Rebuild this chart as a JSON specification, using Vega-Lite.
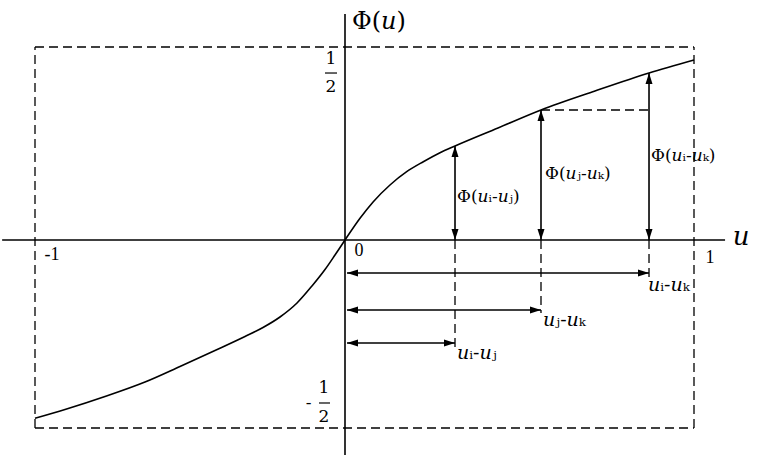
{
  "$schema": "https://vega.github.io/schema/vega-lite/v6.json",
  "width": 764,
  "height": 459,
  "autosize": {"type": "fit", "contains": "padding"},
  "padding": 0,
  "background": "white",
  "config": {"view": {"stroke": null}},
  "datasets": {
    "curve": [
      {"u": -1.0, "phi": -0.4742},
      {"u": -0.9032, "phi": -0.4508},
      {"u": -0.7742, "phi": -0.4162},
      {"u": -0.6452, "phi": -0.3777},
      {"u": -0.5323, "phi": -0.3364},
      {"u": -0.4194, "phi": -0.2939},
      {"u": -0.3226, "phi": -0.2566},
      {"u": -0.2645, "phi": -0.2327},
      {"u": -0.2097, "phi": -0.2048},
      {"u": -0.1548, "phi": -0.1676},
      {"u": -0.1065, "phi": -0.1223},
      {"u": -0.0645, "phi": -0.0785},
      {"u": -0.0323, "phi": -0.0399},
      {"u": 0.0, "phi": 0.0},
      {"u": 0.043, "phi": 0.0562},
      {"u": 0.0811, "phi": 0.0992},
      {"u": 0.1289, "phi": 0.1425},
      {"u": 0.1768, "phi": 0.1769},
      {"u": 0.2244, "phi": 0.2028},
      {"u": 0.2722, "phi": 0.2262},
      {"u": 0.3152, "phi": 0.2435},
      {"u": 0.4384, "phi": 0.2902},
      {"u": 0.5616, "phi": 0.3368},
      {"u": 0.7163, "phi": 0.386},
      {"u": 0.8711, "phi": 0.4326},
      {"u": 1.0, "phi": 0.4663}
    ],
    "axes": [
      {"u": -1.106, "phi": 0, "u2": 1.089, "phi2": 0},
      {"u": 0, "phi": 0.5855, "u2": 0, "phi2": -0.5718}
    ],
    "arrows": [
      {"u": 0.3152, "phi": 0, "u2": 0.3152, "phi2": 0.2435},
      {"u": 0.5616, "phi": 0, "u2": 0.5616, "phi2": 0.3368},
      {"u": 0.8711, "phi": 0, "u2": 0.8711, "phi2": 0.4326},
      {"u": 0.0057, "phi": -0.0878, "u2": 0.8711, "phi2": -0.0878},
      {"u": 0.0057, "phi": -0.1862, "u2": 0.5616, "phi2": -0.1862},
      {"u": 0.0057, "phi": -0.2739, "u2": 0.3152, "phi2": -0.2739}
    ],
    "bars": [
      {"u": -0.0645, "phi": 0.4326, "u2": -0.0258, "phi2": 0.4326},
      {"u": -0.0839, "phi": -0.4335, "u2": -0.0484, "phi2": -0.4335}
    ],
    "dashed": [
      {"u": -1, "phi": 0.5, "u2": 1, "phi2": 0.5},
      {"u": -1, "phi": -0.5, "u2": 1, "phi2": -0.5},
      {"u": -1, "phi": -0.5, "u2": -1, "phi2": 0.5},
      {"u": 1, "phi": -0.5, "u2": 1, "phi2": 0.5},
      {"u": 0.3152, "phi": 0, "u2": 0.3152, "phi2": -0.2846},
      {"u": 0.5616, "phi": 0, "u2": 0.5616, "phi2": -0.194},
      {"u": 0.8711, "phi": 0, "u2": 0.8711, "phi2": -0.101},
      {"u": 0.5616, "phi": 0.3368, "u2": 0.8711, "phi2": 0.3368}
    ],
    "headsUp": [
      {"u": 0.3152, "phi": 0.2435},
      {"u": 0.5616, "phi": 0.3368},
      {"u": 0.8711, "phi": 0.4326}
    ],
    "headsDown": [
      {"u": 0.3152, "phi": 0},
      {"u": 0.5616, "phi": 0},
      {"u": 0.8711, "phi": 0}
    ],
    "headsLeft": [
      {"u": 0.0057, "phi": -0.0878},
      {"u": 0.0057, "phi": -0.1862},
      {"u": 0.0057, "phi": -0.2739}
    ],
    "headsRight": [
      {"u": 0.8711, "phi": -0.0878},
      {"u": 0.5616, "phi": -0.1862},
      {"u": 0.3152, "phi": -0.2739}
    ],
    "phiLabels": [
      {"u": 0.3209, "phi": 0.1114, "label": "Φ(𝑢ᵢ-𝑢ⱼ)"},
      {"u": 0.573, "phi": 0.171, "label": "Φ(𝑢ⱼ-𝑢ₖ)"},
      {"u": 0.8768, "phi": 0.2176, "label": "Φ(𝑢ᵢ-𝑢ₖ)"}
    ],
    "diffLabels": [
      {"u": 0.868, "phi": -0.1197, "label": "𝑢ᵢ-𝑢ₖ"},
      {"u": 0.567, "phi": -0.2128, "label": "𝑢ⱼ-𝑢ₖ"},
      {"u": 0.3209, "phi": -0.3005, "label": "𝑢ᵢ-𝑢ⱼ"}
    ],
    "title": [{"u": 0.02, "phi": 0.5648, "label": "Φ(𝑢)"}],
    "axisName": [{"u": 1.1347, "phi": -0.0133, "label": "𝑢"}],
    "ticks": [
      {"u": -0.945, "phi": -0.0399, "label": "-1"},
      {"u": 0.0401, "phi": -0.0293, "label": "0"},
      {"u": 1.0458, "phi": -0.0479, "label": "1"}
    ],
    "fractions": [
      {"u": -0.0452, "phi": 0.4689, "label": "1"},
      {"u": -0.0452, "phi": 0.3964, "label": "2"},
      {"u": -0.0677, "phi": -0.3936, "label": "1"},
      {"u": -0.0677, "phi": -0.4707, "label": "2"},
      {"u": -0.1177, "phi": -0.4335, "label": "-"}
    ]
  },
  "encoding": {
    "x": {"field": "u", "type": "quantitative", "axis": null,
          "scale": {"domain": [-1, 0, 1], "range": [35, 345, 694], "nice": false, "zero": false}},
    "y": {"field": "phi", "type": "quantitative", "axis": null,
          "scale": {"domain": [-0.5, 0, 0.5], "range": [428, 240, 47], "nice": false, "zero": false}}
  },
  "layer": [
    {"data": {"name": "dashed"}, "mark": {"type": "rule", "color": "black", "strokeWidth": 1.3, "strokeDash": [9, 5]},
     "encoding": {"x2": {"field": "u2"}, "y2": {"field": "phi2"}}},
    {"data": {"name": "axes"}, "mark": {"type": "rule", "color": "black", "strokeWidth": 1.6},
     "encoding": {"x2": {"field": "u2"}, "y2": {"field": "phi2"}}},
    {"data": {"name": "arrows"}, "mark": {"type": "rule", "color": "black", "strokeWidth": 1.6},
     "encoding": {"x2": {"field": "u2"}, "y2": {"field": "phi2"}}},
    {"data": {"name": "bars"}, "mark": {"type": "rule", "color": "black", "strokeWidth": 1.2},
     "encoding": {"x2": {"field": "u2"}, "y2": {"field": "phi2"}}},
    {"data": {"name": "curve"}, "mark": {"type": "line", "color": "black", "strokeWidth": 1.6, "interpolate": "monotone"},
     "encoding": {}},
    {"data": {"name": "headsUp"}, "mark": {"type": "point", "filled": true, "color": "black", "opacity": 1, "size": 100, "shape": "M0,0L-0.7,2.2L0.7,2.2Z"}},
    {"data": {"name": "headsDown"}, "mark": {"type": "point", "filled": true, "color": "black", "opacity": 1, "size": 100, "shape": "M0,0L-0.7,-2.2L0.7,-2.2Z"}},
    {"data": {"name": "headsLeft"}, "mark": {"type": "point", "filled": true, "color": "black", "opacity": 1, "size": 100, "shape": "M0,0L2.2,-0.7L2.2,0.7Z"}},
    {"data": {"name": "headsRight"}, "mark": {"type": "point", "filled": true, "color": "black", "opacity": 1, "size": 100, "shape": "M0,0L-2.2,-0.7L-2.2,0.7Z"}},
    {"data": {"name": "phiLabels"}, "mark": {"type": "text", "align": "left", "baseline": "middle", "font": "DejaVu Serif", "fontSize": 17, "color": "black"},
     "encoding": {"text": {"field": "label"}}},
    {"data": {"name": "diffLabels"}, "mark": {"type": "text", "align": "left", "baseline": "middle", "font": "DejaVu Serif", "fontSize": 19, "color": "black"},
     "encoding": {"text": {"field": "label"}}},
    {"data": {"name": "title"}, "mark": {"type": "text", "align": "left", "baseline": "middle", "font": "DejaVu Serif", "fontSize": 24, "color": "black"},
     "encoding": {"text": {"field": "label"}}},
    {"data": {"name": "axisName"}, "mark": {"type": "text", "align": "center", "baseline": "alphabetic", "font": "DejaVu Serif", "fontSize": 26, "color": "black"},
     "encoding": {"text": {"field": "label"}}},
    {"data": {"name": "ticks"}, "mark": {"type": "text", "align": "center", "baseline": "middle", "font": "Liberation Serif", "fontSize": 18, "color": "black"},
     "encoding": {"text": {"field": "label"}}},
    {"data": {"name": "fractions"}, "mark": {"type": "text", "align": "center", "baseline": "middle", "font": "DejaVu Serif", "fontSize": 17, "color": "black"},
     "encoding": {"text": {"field": "label"}}}
  ]
}
